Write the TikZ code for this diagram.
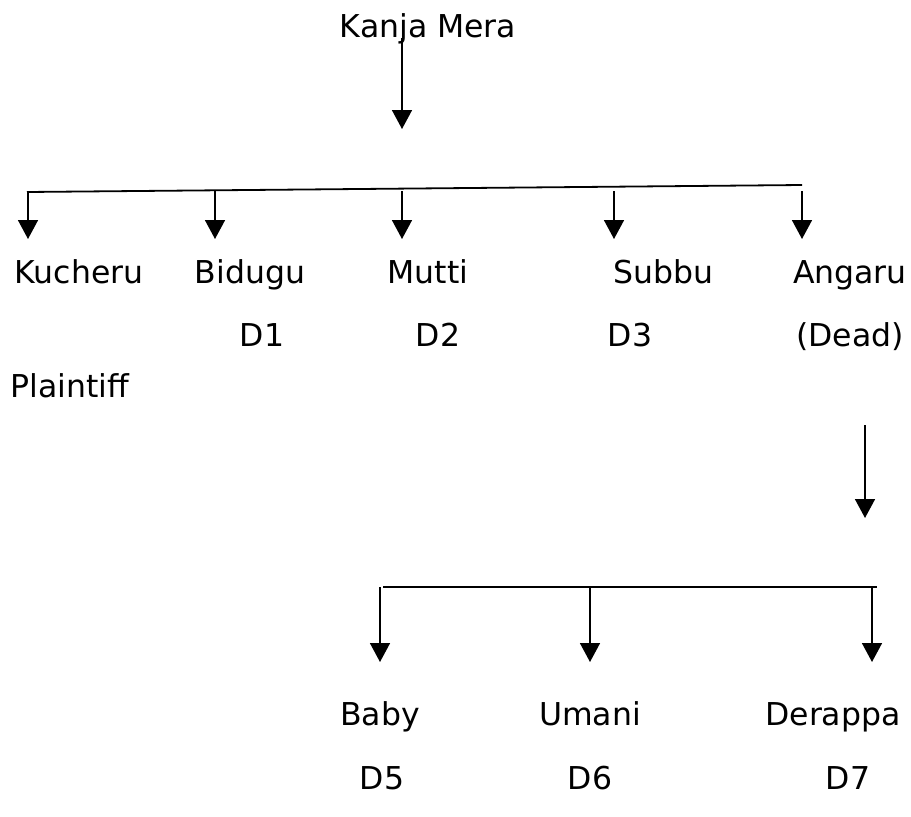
\documentclass[tikz,border=0pt]{standalone}
\usepackage{fontspec}
\setmainfont{DejaVu Sans}
\usetikzlibrary{arrows.meta}
\begin{document}
\begin{tikzpicture}[x=1pt,y=-1pt,
  lbl/.style={anchor=base,inner sep=0pt,font=\fontsize{31.5}{38}\selectfont},
  bar/.style={line width=1.8pt},
  arr/.style={line width=1.6pt,-{Triangle[width=20pt,length=19pt]}}]
\useasboundingbox (0,0) rectangle (911,817);
% labels
\node[lbl] (kanja) at (428,37) {Kanja Mera};
\node[lbl] (kucheru) at (79,283) {Kucheru};
\node[lbl] (bidugu) at (250,283) {Bidugu};
\node[lbl] (mutti) at (428,283) {Mutti};
\node[lbl] (subbu) at (663,283) {Subbu};
\node[lbl] (angaru) at (850,283) {Angaru};
\node[lbl] (d1) at (262,346) {D1};
\node[lbl] (d2) at (438,346) {D2};
\node[lbl] (d3) at (630,346) {D3};
\node[lbl] (dead) at (850,346) {(Dead)};
\node[lbl] (plaintiff) at (70,397) {Plaintiff};
\node[lbl] (baby) at (380,725) {Baby};
\node[lbl] (umani) at (590,725) {Umani};
\node[lbl] (derappa) at (833,725) {Derappa};
\node[lbl] (d5) at (382,789) {D5};
\node[lbl] (d6) at (590,789) {D6};
\node[lbl] (d7) at (848,789) {D7};
% top
\coordinate (t0) at (402,38);
\coordinate (t1) at (402,129);
\draw[arr] (t0) -- (t1);
\coordinate (bl) at (27,192);
\coordinate (br) at (802,185);
\draw[bar] (bl) -- (br);
\foreach \x/\n in {28/a,215/b,402/c,614/d,802/e}{
  \coordinate (s\n) at (\x,191);
  \coordinate (e\n) at (\x,239);
  \draw[arr] (s\n) -- (e\n);
}
% Angaru branch
\coordinate (g0) at (865,425);
\coordinate (g1) at (865,518);
\draw[arr] (g0) -- (g1);
\coordinate (ll) at (383,587);
\coordinate (lr) at (877,587);
\draw[bar] (ll) -- (lr);
\foreach \x/\n in {380/p,590/q,872/r}{
  \coordinate (u\n) at (\x,587);
  \coordinate (v\n) at (\x,662);
  \draw[arr] (u\n) -- (v\n);
}
\end{tikzpicture}
\end{document}
